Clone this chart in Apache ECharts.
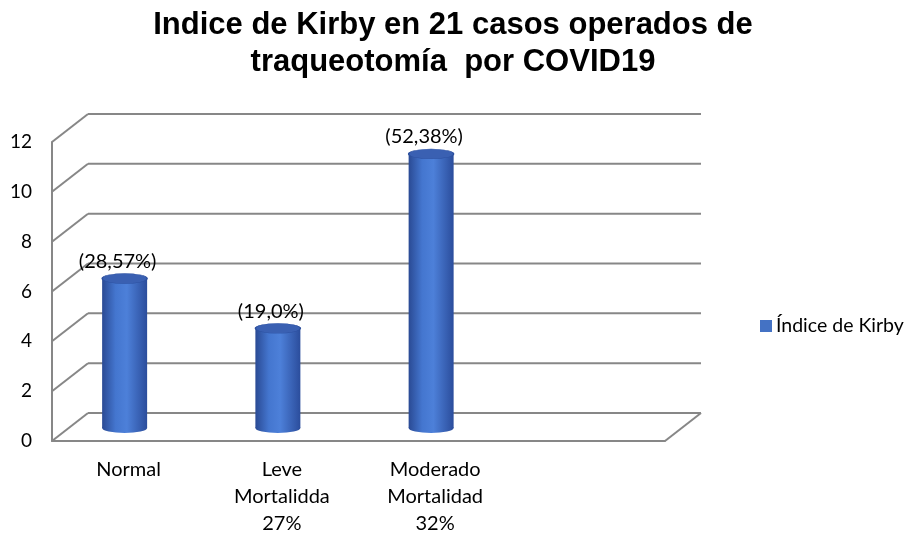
<!DOCTYPE html>
<html><head><meta charset="utf-8">
<script src="https://cdn.jsdelivr.net/npm/echarts@6/dist/echarts.min.js"></script>
<style>html,body{margin:0;padding:0;background:#fff}#c{width:906px;height:537px}</style>
</head><body><div id="c"></div>
<script>
const categories = ['Normal', 'Leve\nMortalidda\n27%', 'Moderado\nMortalidad\n32%', ''];
const values = [6, 4, 11];
const pctLabels = ['(28,57%)', '(19,0%)', '(52,38%)'];
const yTicks = [0, 2, 4, 6, 8, 10, 12];
const seriesName = 'Índice de Kirby';
const titleText = 'Indice de Kirby en 21 casos operados de\ntraqueotomía  por COVID19';

const DX = 36, DY = -28;
const GRID_COLOR = '#878787';
const FONT = 'Lato, "Open Sans", sans-serif';
const sideFill = {type:'linear', x:0, y:0, x2:1, y2:0, colorStops:[
  {offset:0, color:'#2a4a94'}, {offset:0.3, color:'#4476cf'}, {offset:0.55, color:'#4d80d9'}, {offset:1, color:'#2b4d9c'}]};

const chart = echarts.init(document.getElementById('c'), null, {renderer:'canvas'});
chart.setOption({
  animation: false,
  backgroundColor: '#fff',
  title: {text: titleText, left: 'center', top: 2,
    textStyle: {fontFamily: '"Liberation Sans", Arial, sans-serif', fontWeight: 'bold', fontSize: 31, lineHeight: 37, color: '#000'}},
  legend: {data: [seriesName], left: 755, top: 311, icon: 'rect', itemWidth: 12, itemHeight: 12, itemGap: 6,
    textStyle: {fontFamily: FONT, fontSize: 19.5, color: '#000', padding: [0, 0, 0, -1]}},
  grid: {left: 52, top: 142, width: 613, height: 301},
  xAxis: {type: 'category', data: categories,
    axisLine: {show: true, lineStyle: {color: GRID_COLOR, width: 2}}, axisTick: {show: false},
    axisLabel: {interval: 0, margin: 15, fontFamily: FONT, fontSize: 20, lineHeight: 27, color: '#000'}},
  yAxis: {type: 'value', min: 0, max: 12, interval: 2,
    axisLine: {show: true, lineStyle: {color: GRID_COLOR, width: 2}}, axisTick: {show: false}, splitLine: {show: false},
    axisLabel: {margin: 20, fontFamily: FONT, fontSize: 19, color: '#000'}},
  series: [
    {type: 'custom', name: 'box', silent: true, z: 1,
      data: yTicks.map(v => [0, v]),
      renderItem: function (params, api) {
        const v = api.value(1);
        const y = api.coord([0, v])[1];
        const cs = params.coordSys;
        const x0 = cs.x, x1 = cs.x + cs.width;
        const st = {stroke: GRID_COLOR, lineWidth: 2};
        const ch = [
          {type: 'line', shape: {x1: x0 + DX, y1: y + DY, x2: x1 + DX, y2: y + DY}, style: st},
          {type: 'line', shape: {x1: x0, y1: y, x2: x0 + DX, y2: y + DY}, style: st}
        ];
        if (v === 0) ch.push({type: 'line', shape: {x1: x1, y1: y, x2: x1 + DX, y2: y + DY}, style: st});
        return {type: 'group', children: ch};
      }},
    {type: 'custom', name: seriesName, z: 5, itemStyle: {color: '#4472C4'},
      data: values.map((v, i) => [i, v]),
      renderItem: function (params, api) {
        const i = api.value(0), v = api.value(1);
        const c = api.coord([i, v]);
        const b = api.coord([i, 0]);
        const RX = 22.5, RY = 5, BX = -4, BY = -13;
        const cx = c[0] + BX, topY = c[1] + BY, botY = b[1] + BY;
        return {type: 'group', children: [
          {type: 'circle', shape: {cx: 0, cy: 0, r: RX}, x: cx, y: botY, scaleY: RY / RX, style: {fill: sideFill}},
          {type: 'rect', shape: {x: cx - RX, y: topY, width: 2 * RX, height: botY - topY}, style: {fill: sideFill}},
          {type: 'circle', shape: {cx: 0, cy: 0, r: RX}, x: cx, y: topY, scaleY: RY / RX,
            style: {fill: '#3a60b2', stroke: '#2c4f9e', lineWidth: 1.5}},
          {type: 'text', x: cx - 7, y: topY - RY - 12,
            style: {text: pctLabels[i], fontFamily: FONT, fontSize: 20, fill: '#000', align: 'center', verticalAlign: 'middle'}}
        ]};
      }}
  ]
});
</script></body></html>
